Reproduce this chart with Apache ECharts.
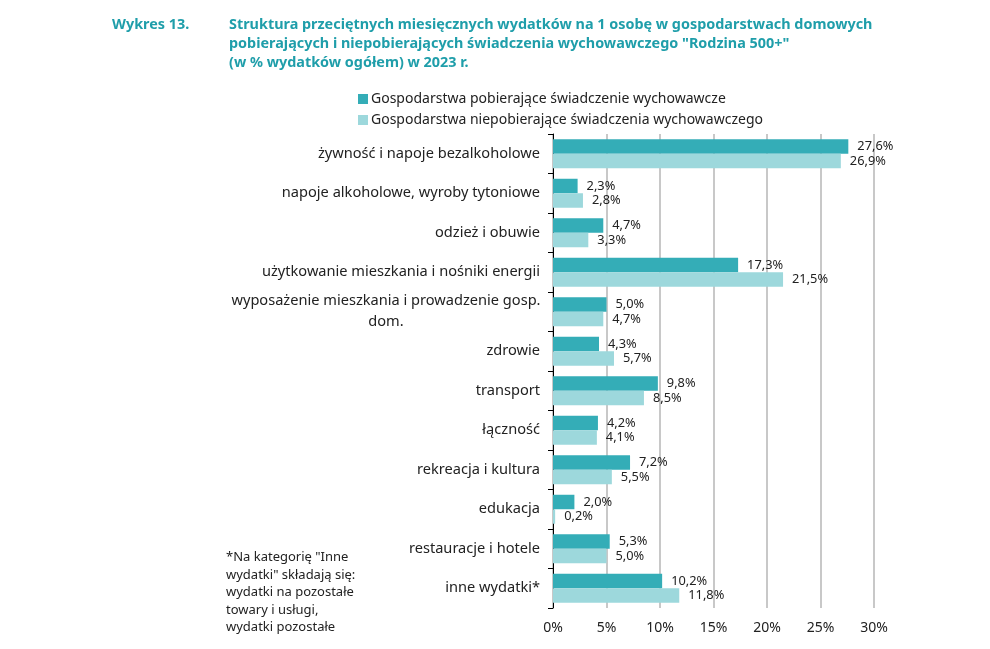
<!DOCTYPE html>
<html><head><meta charset="utf-8">
<script src="https://cdn.jsdelivr.net/npm/echarts@6/dist/echarts.min.js"></script>
<style>html,body{margin:0;padding:0;background:#fff}#c{width:990px;height:649px}</style>
</head><body><div id="c"></div>
<script>
const categories = ['żywność i napoje bezalkoholowe','napoje alkoholowe, wyroby tytoniowe','odzież i obuwie','użytkowanie mieszkania i nośniki energii','wyposażenie mieszkania i prowadzenie gosp. dom.','zdrowie','transport','łączność','rekreacja i kultura','edukacja','restauracje i hotele','inne wydatki*'];
const seriesNames = ['Gospodarstwa pobierające świadczenie wychowawcze','Gospodarstwa niepobierające świadczenia wychowawczego'];
const pobierajace = [27.6,2.3,4.7,17.3,5.0,4.3,9.8,4.2,7.2,2.0,5.3,10.2];
const niepobierajace = [26.9,2.8,3.3,21.5,4.7,5.7,8.5,4.1,5.5,0.2,5.0,11.8];
const xTicks = [0,5,10,15,20,25,30];

const FONT = 'Noto Sans';
const chart = echarts.init(document.getElementById('c'));
const fmt = v => v.toFixed(1).replace('.', ',') + '%';
chart.setOption({
  animation: false,
  textStyle: {fontFamily: FONT},
  title: [
    {text: 'Wykres 13.', left: 112, top: 15, padding: 0, textStyle: {fontFamily: FONT, fontSize: 14.4, fontWeight: 'bold', color: '#1f9eaa', lineHeight: 19}},
    {text: 'Struktura przeciętnych miesięcznych wydatków na 1 osobę w gospodarstwach domowych\npobierających i niepobierających świadczenia wychowawczego "Rodzina 500+"\n(w % wydatków ogółem) w 2023 r.', left: 229, top: 15, padding: 0,
     textStyle: {fontFamily: FONT, fontSize: 14.4, fontWeight: 'bold', color: '#1f9eaa', lineHeight: 19}}
  ],
  legend: {
    orient: 'vertical', left: 353, top: 87, itemWidth: 10, itemHeight: 10, itemGap: 7,
    icon: 'rect',
    textStyle: {fontFamily: FONT, fontSize: 14, color: '#222', padding: [0,0,0,-2]},
    data: seriesNames
  },
  grid: {left: 553, right: 116, top: 134, bottom: 41, containLabel: false},
  xAxis: {
    type: 'value', min: 0, max: 30, interval: 5,
    axisLabel: {formatter: v => v + '%', fontSize: 14, color: '#222', margin: 13},
    splitLine: {show: true, lineStyle: {color: '#c8c8c8', width: 2}},
    axisLine: {show: false}, axisTick: {show: false}
  },
  yAxis: {
    type: 'category', data: categories, inverse: true,
    axisLine: {show: true, lineStyle: {color: '#000', width: 1}},
    axisTick: {show: true, length: 5, lineStyle: {color: '#000'}},
    axisLabel: {
      fontSize: 14.6, color: '#222', margin: 13,
      formatter: v => v.startsWith('wyposażenie') ? '{c|wyposażenie mieszkania i prowadzenie gosp.}\n{c|dom.}' : v,
      rich: {c: {fontSize: 14.6, color: '#222', width: 308, align: 'center', lineHeight: 21, fontFamily: FONT}}
    }
  },
  series: [
    {name: seriesNames[0], type: 'bar', data: pobierajace, barWidth: 14.5, barGap: '0%',
     itemStyle: {color: '#34adb7'},
     label: {show: true, position: 'right', distance: 9, formatter: p => fmt(p.value), fontSize: 12.8, color: '#222', fontFamily: FONT}},
    {name: seriesNames[1], type: 'bar', data: niepobierajace, barWidth: 14.5,
     itemStyle: {color: '#9dd8dc'},
     label: {show: true, position: 'right', distance: 9, formatter: p => fmt(p.value), fontSize: 12.8, color: '#222', fontFamily: FONT}}
  ],
  graphic: [{
    type: 'text', left: 226, top: 549,
    style: {text: '*Na kategorię "Inne\nwydatki" składają się:\nwydatki na pozostałe\ntowary i usługi,\nwydatki pozostałe', fontFamily: FONT, fontSize: 13, lineHeight: 17.5, fill: '#222'}
  }]
});
</script></body></html>
